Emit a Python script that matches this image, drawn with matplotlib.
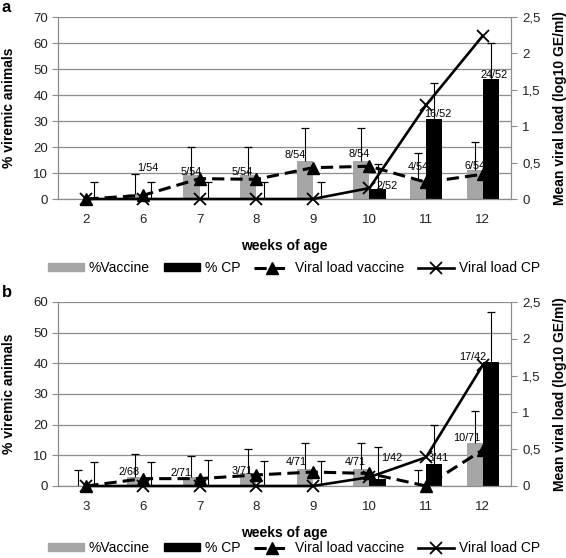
import numpy as np
import matplotlib
matplotlib.use("Agg")
import matplotlib.pyplot as plt
from matplotlib.lines import Line2D
from matplotlib.patches import Patch
from matplotlib.ticker import FuncFormatter, MultipleLocator

plt.rcParams["font.family"] = ["Liberation Sans", "DejaVu Sans"]

# panel a
weeks_a = ["2", "6", "7", "8", "9", "10", "11", "12"]
vac_pct_a = [0, 1.85, 9.26, 9.26, 14.8, 14.8, 7.4, 11.1]
vac_err_a = [np.nan, 7.8, 10.7, 10.7, 12.5, 12.5, 10.3, 10.9]
cp_pct_a = [0, 0, 0, 0, 0, 3.85, 30.8, 46.2]
cp_err_a = [6.5, 6.5, 6.5, 6.5, 6.5, 9.7, 13.8, 13.8]
vac_load_a = [0, 0.05, 0.28, 0.27, 0.43, 0.45, 0.23, 0.34]
cp_load_a = [0, 0, 0, 0, 0, 0.15, 1.29, 2.24]
vac_lab_a = ["", "1/54", "5/54", "5/54", "8/54", "8/54", "4/54", "6/54"]
cp_lab_a = ["", "", "", "", "", "2/52", "16/52", "24/52"]

# panel b
weeks_b = ["3", "6", "7", "8", "9", "10", "11", "12"]
vac_pct_b = [0, 2.94, 2.82, 4.23, 5.63, 5.63, 0, 14.1]
vac_err_b = [5.2, 7.5, 7.0, 7.8, 8.4, 8.4, 5.2, 10.4]
cp_pct_b = [0, 0, 0, 0, 0, 2.38, 7.32, 40.5]
cp_err_b = [7.8, 7.8, 8.5, 8.2, 8.2, 10.3, 12.7, 16.4]
vac_load_b = [0, 0.1, 0.1, 0.15, 0.19, 0.17, 0, 0.49]
cp_load_b = [0, 0, 0, 0, 0, 0.12, 0.39, 1.64]
vac_lab_b = ["", "2/68", "2/71", "3/71", "4/71", "4/71", "", "10/71"]
cp_lab_b = ["", "", "", "", "", "1/42", "3/41", "17/42"]

# label nudges in pixels (dx, dy), keyed by category index
nudge_vac_a = {1: (13, 26), 2: (0, 3), 3: (-6, 3), 4: (-10, 6), 5: (-2, 7), 6: (0, 13), 7: (0, 4)}
nudge_cp_a = {5: (10, 3), 6: (4, 5), 7: (3, 4)}
nudge_vac_b = {1: (-6, 5), 2: (-10, 4), 3: (-6, 2), 4: (-8, 7), 5: (-6, 7), 7: (-8, 5)}
nudge_cp_b = {5: (14, 21), 6: (4, 6), 7: (-18, 5)}

GREY = "#a6a6a6"
GRID = "#8c8c8c"
BW = 0.285


def comma(v, pos):
    return "{:g}".format(v).replace(".", ",")


def error_bars(ax, x, vals, err):
    # upper half only, as in the original
    vals = np.asarray(vals, float)
    err = np.asarray(err, float)
    ok = ~np.isnan(err)
    ax.vlines(x[ok], vals[ok], vals[ok] + err[ok], color="black", lw=0.8, zorder=3)
    ax.plot(x[ok], vals[ok] + err[ok], ls="none", marker="_", ms=6, mew=0.9,
            color="black", zorder=3)


def draw_panel(ax, weeks, vac, vac_err, cp, cp_err, vac_load, cp_load,
               vac_lab, cp_lab, nudge_vac, nudge_cp, ymax):
    x = np.arange(len(weeks))
    ax.bar(x - BW / 2, vac, BW, color=GREY, zorder=2)
    ax.bar(x + BW / 2, cp, BW, color="black", zorder=2)
    error_bars(ax, x - BW / 2, vac, vac_err)
    error_bars(ax, x + BW / 2, cp, cp_err)

    for i, t in enumerate(vac_lab):
        if t:
            dx, dy = nudge_vac.get(i, (0, 4))
            ax.annotate(t, (x[i] - BW / 2, vac[i]), xytext=(dx, dy),
                        textcoords="offset pixels", ha="center", va="center",
                        fontsize=7.8, zorder=4)
    for i, t in enumerate(cp_lab):
        if t:
            dx, dy = nudge_cp.get(i, (0, 4))
            ax.annotate(t, (x[i] + BW / 2, cp[i]), xytext=(dx, dy),
                        textcoords="offset pixels", ha="center", va="center",
                        fontsize=7.8, zorder=4)

    ax.set_xlim(-0.5, len(weeks) - 0.5)
    ax.set_ylim(0, ymax)
    ax.yaxis.set_major_locator(MultipleLocator(10))
    ax.set_xticks(x)
    ax.set_xticklabels(weeks)
    ax.tick_params(axis="x", length=0, pad=11, labelsize=9.5, labelcolor="#222222")
    ax.tick_params(axis="y", length=4, width=0.8, color=GRID, pad=3,
                   labelsize=9.5, labelcolor="#222222")
    ax.grid(axis="y", color=GRID, lw=0.9)
    ax.set_axisbelow(True)
    for s in ["top", "right"]:
        ax.spines[s].set_visible(False)
    for s in ["left", "bottom"]:
        ax.spines[s].set_color(GRID)
        ax.spines[s].set_linewidth(0.9)
    ax.set_ylabel("% viremic animals", fontsize=10, fontweight="bold")
    ax.yaxis.set_label_coords(-0.093, 0.5)
    ax.set_xlabel("weeks of age", fontsize=10, fontweight="bold")
    ax.xaxis.set_label_coords(0.5, -0.22)

    ax2 = ax.twinx()
    ax2.plot(x, vac_load, color="black", lw=2.2, ls=(0, (4, 2)), marker="^",
             ms=8, clip_on=False, zorder=5)
    ax2.plot(x, cp_load, color="black", lw=1.9, marker="x", ms=8, mew=1.3,
             clip_on=False, zorder=5)
    ax2.set_ylim(0, 2.5)
    ax2.yaxis.set_major_locator(MultipleLocator(0.5))
    ax2.yaxis.set_major_formatter(FuncFormatter(comma))
    ax2.tick_params(axis="y", length=4, width=0.8, color=GRID, pad=4,
                    labelsize=9.5, labelcolor="#222222")
    for s in ["top", "left", "bottom"]:
        ax2.spines[s].set_visible(False)
    ax2.spines["right"].set_color(GRID)
    ax2.spines["right"].set_linewidth(0.9)
    ax2.set_ylabel("Mean viral load (log10 GE/ml)", fontsize=10, fontweight="bold")
    ax2.yaxis.set_label_coords(1.093, 0.5)


W, H = 566, 558
fig = plt.figure(figsize=(W / 100, H / 100), dpi=100)

ax_a = fig.add_axes([58 / W, 1 - 199 / H, 453 / W, 182 / H])
draw_panel(ax_a, weeks_a, vac_pct_a, vac_err_a, cp_pct_a, cp_err_a,
           vac_load_a, cp_load_a, vac_lab_a, cp_lab_a, nudge_vac_a, nudge_cp_a, 70)

ax_b = fig.add_axes([58 / W, 1 - 486 / H, 453 / W, 184 / H])
draw_panel(ax_b, weeks_b, vac_pct_b, vac_err_b, cp_pct_b, cp_err_b,
           vac_load_b, cp_load_b, vac_lab_b, cp_lab_b, nudge_vac_b, nudge_cp_b, 60)

fig.text(2 / W, 1 - 8 / H, "a", fontsize=12, fontweight="bold", va="center")
fig.text(2 / W, 1 - 292 / H, "b", fontsize=12, fontweight="bold", va="center")

handles = [
    Patch(color=GREY),
    Patch(color="black"),
    Line2D([], [], color="black", lw=2.2, ls=(0, (4, 2)), marker="^", ms=8),
    Line2D([], [], color="black", lw=1.9, marker="x", ms=8, mew=1.3),
]
names = ["%Vaccine", "% CP", "Viral load vaccine", "Viral load CP"]
for yc in (268, 548):
    fig.legend(handles, names, loc="center", bbox_to_anchor=(294 / W, 1 - yc / H),
               ncol=4, frameon=False, fontsize=10, handlelength=2.6,
               handleheight=0.5, handletextpad=0.35, columnspacing=1.0,
               numpoints=1, borderaxespad=0, borderpad=0)

fig.savefig("out.png", dpi=100)
